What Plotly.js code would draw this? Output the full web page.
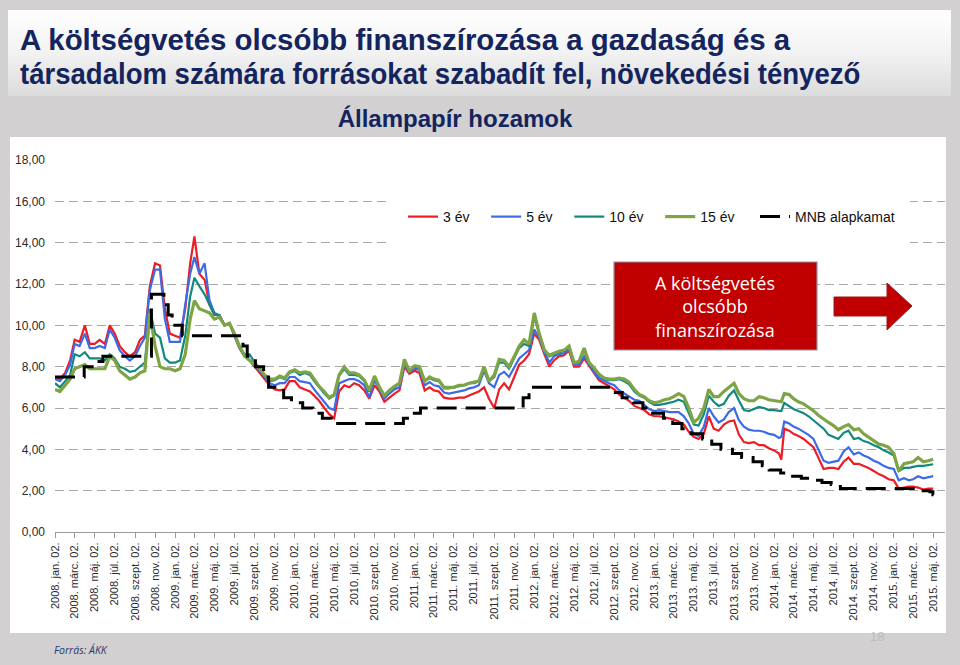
<!DOCTYPE html>
<html>
<head>
<meta charset="utf-8">
<script src="https://cdn.plot.ly/plotly-3.0.1.min.js"></script>
<style>
  html, body { margin:0; padding:0; background:#D2D0D0; width:960px; height:665px; overflow:hidden; }
  #hdr { position:absolute; left:8px; top:10px; width:943px; height:86px;
         background:linear-gradient(to bottom, #FFFFFF 0%, #F4F4F4 45%, #DCDCDC 100%); }
  #chart { position:absolute; left:0; top:0; width:960px; height:665px; }
  .hl { position:absolute; left:20px; white-space:nowrap; pointer-events:none; height:34px;
        font-family:'Liberation Sans', Arial, sans-serif; font-weight:bold; font-size:30px;
        line-height:34px; color:#13245E; transform-origin:0 50%; }
  #hl1 { top:23px; transform:scaleX(0.98); }
  #hl2 { top:57px; transform:scaleX(0.918); }
</style>
</head>
<body>
<div id="hdr"></div>
<div id="chart"></div>
<div id="hl1" class="hl"></div>
<div id="hl2" class="hl"></div>
<script>
// ---------- data ----------
const dates = [
'2008-01-02','2008-01-17','2008-02-02','2008-02-17','2008-03-02','2008-03-17','2008-04-02','2008-04-17','2008-05-02','2008-05-17','2008-06-02','2008-06-17',
'2008-07-02','2008-07-17','2008-08-02','2008-08-17','2008-09-02','2008-09-17','2008-10-02','2008-10-17','2008-11-02','2008-11-17','2008-12-02','2008-12-17',
'2009-01-02','2009-01-17','2009-02-02','2009-02-17','2009-03-02','2009-03-17','2009-04-02','2009-04-17','2009-05-02','2009-05-17','2009-06-02','2009-06-17',
'2009-07-02','2009-07-17','2009-08-02','2009-08-17','2009-09-02','2009-09-17','2009-10-02','2009-10-17','2009-11-02','2009-11-17','2009-12-02','2009-12-17',
'2010-01-02','2010-01-17','2010-02-02','2010-02-17','2010-03-02','2010-03-17','2010-04-02','2010-04-17','2010-05-02','2010-05-17','2010-06-02','2010-06-17',
'2010-07-02','2010-07-17','2010-08-02','2010-08-17','2010-09-02','2010-09-17','2010-10-02','2010-10-17','2010-11-02','2010-11-17','2010-12-02','2010-12-17',
'2011-01-02','2011-01-17','2011-02-02','2011-02-17','2011-03-02','2011-03-17','2011-04-02','2011-04-17','2011-05-02','2011-05-17','2011-06-02','2011-06-17',
'2011-07-02','2011-07-17','2011-08-02','2011-08-17','2011-09-02','2011-09-17','2011-10-02','2011-10-17','2011-11-02','2011-11-17','2011-12-02','2011-12-17',
'2012-01-02','2012-01-17','2012-02-02','2012-02-17','2012-03-02','2012-03-17','2012-04-02','2012-04-17','2012-05-02','2012-05-17','2012-06-02','2012-06-17',
'2012-07-02','2012-07-17','2012-08-02','2012-08-17','2012-09-02','2012-09-17','2012-10-02','2012-10-17','2012-11-02','2012-11-17','2012-12-02','2012-12-17',
'2013-01-02','2013-01-17','2013-02-02','2013-02-17','2013-03-02','2013-03-17','2013-04-02','2013-04-17','2013-05-02','2013-05-17','2013-06-02','2013-06-17',
'2013-07-02','2013-07-17','2013-08-02','2013-08-17','2013-09-02','2013-09-17','2013-10-02','2013-10-17','2013-11-02','2013-11-17','2013-12-02','2013-12-17',
'2014-01-02','2014-01-17','2014-01-24','2014-02-02','2014-02-17','2014-03-02','2014-03-17','2014-04-02','2014-04-17','2014-05-02','2014-05-17','2014-06-02','2014-06-17',
'2014-07-02','2014-07-17','2014-08-02','2014-08-17','2014-09-02','2014-09-17','2014-10-02','2014-10-17','2014-11-02','2014-11-17','2014-12-02','2014-12-17',
'2015-01-02','2015-01-17','2015-02-02','2015-02-17','2015-03-02','2015-03-17','2015-04-02','2015-04-17','2015-05-02'
];

const y3 = [
7.5,7.4,7.7,8.3,9.3,9.2,10.0,9.1,9.1,9.3,9.1,10.0,
9.6,9.0,8.7,8.5,8.7,9.3,9.5,11.9,13.0,12.9,10.8,9.6,
9.5,9.4,10.8,13.0,14.3,12.5,12.2,11.0,10.5,10.5,10.0,10.1,
9.5,8.9,8.5,8.3,8.0,7.7,7.4,7.1,6.9,6.85,6.9,7.3,
7.3,7.0,6.9,6.8,6.6,6.35,6.0,5.7,5.5,6.8,7.1,7.0,
7.2,7.1,6.85,6.45,7.1,6.8,6.3,6.5,6.7,6.85,8.0,7.65,
7.8,7.7,6.85,7.0,6.85,6.8,6.5,6.45,6.45,6.5,6.5,6.6,
6.7,6.8,7.0,6.45,6.0,6.9,7.2,6.9,7.5,8.1,8.3,8.6,
9.6,9.3,8.6,8.0,8.3,8.5,8.55,8.8,8.0,8.0,8.4,8.05,
7.65,7.35,7.2,7.05,6.9,6.65,6.5,6.35,6.1,6.0,5.9,5.7,
5.6,5.6,5.55,5.5,5.45,5.35,5.2,4.85,4.6,4.5,4.75,5.6,
5.0,4.9,5.2,5.35,5.4,4.7,4.35,4.3,4.35,4.2,4.2,4.05,
3.95,3.8,3.5,5.0,4.9,4.75,4.65,4.5,4.3,4.1,3.6,3.05,3.1,
3.1,3.05,3.4,3.6,3.3,3.3,3.2,3.1,2.95,2.8,2.7,2.55,
2.5,2.1,2.15,2.2,2.2,2.15,2.05,2.1,2.1
];

const y5 = [
7.4,7.3,7.6,8.1,9.1,9.0,9.6,8.9,8.9,9.0,8.9,9.8,
9.4,8.8,8.5,8.3,8.5,9.0,9.4,11.7,12.7,12.7,10.3,9.2,
9.2,9.2,11.0,12.5,13.3,12.5,13.0,11.2,10.6,10.5,10.0,10.1,
9.5,8.9,8.5,8.3,8.1,7.8,7.5,7.2,7.1,7.2,7.2,7.5,
7.5,7.3,7.25,7.2,6.9,6.6,6.3,6.0,5.9,7.2,7.3,7.4,
7.4,7.3,7.1,6.5,7.35,6.9,6.45,6.7,6.9,7.0,8.1,7.75,
7.9,7.85,7.1,7.25,7.1,7.05,6.75,6.7,6.75,6.8,6.85,6.95,
7.0,7.1,7.8,7.2,7.0,7.6,7.75,7.5,8.0,8.4,8.6,8.8,
9.8,9.4,8.7,8.2,8.5,8.6,8.65,8.85,8.1,8.1,8.5,8.1,
7.75,7.45,7.3,7.2,7.1,6.85,6.7,6.55,6.4,6.35,6.15,5.95,
5.85,5.9,5.85,5.8,5.8,5.8,5.6,5.25,4.75,4.65,5.1,6.0,
5.6,5.3,5.45,5.8,6.0,5.4,5.1,4.95,4.9,4.9,4.85,4.75,
4.7,4.55,4.6,5.35,5.25,5.1,5.0,4.85,4.7,4.5,4.0,3.45,3.35,
3.4,3.45,3.9,4.1,3.75,3.85,3.7,3.6,3.45,3.35,3.2,3.1,
3.05,2.5,2.6,2.5,2.55,2.7,2.6,2.65,2.7
];

const y10 = [
7.2,7.0,7.3,7.6,8.6,8.5,8.7,8.4,8.4,8.4,8.3,8.6,
8.4,8.0,7.9,7.75,7.8,8.0,8.2,10.8,9.6,9.4,8.4,8.2,
8.2,8.3,9.5,11.4,12.3,11.9,11.5,11.0,10.5,10.5,10.0,10.1,
9.5,9.0,8.6,8.6,8.2,7.9,7.6,7.3,7.35,7.5,7.4,7.7,
7.8,7.6,7.7,7.6,7.3,7.0,6.7,6.45,6.6,7.55,7.9,7.6,
7.6,7.55,7.3,6.8,7.5,7.0,6.6,6.85,7.0,7.2,8.3,7.8,
8.0,7.95,7.3,7.45,7.35,7.3,6.95,6.95,7.0,7.05,7.1,7.2,
7.2,7.3,7.9,7.3,7.5,8.2,8.2,7.9,8.4,8.9,9.1,9.0,
10.4,9.6,8.8,8.5,8.6,8.7,8.75,8.95,8.2,8.2,8.8,8.2,
7.9,7.6,7.4,7.35,7.35,7.4,7.3,7.15,6.8,6.6,6.5,6.3,
6.15,6.15,6.2,6.25,6.3,6.4,6.3,5.75,5.2,5.15,5.7,6.6,
6.3,6.1,6.2,6.6,6.85,6.35,5.9,5.85,5.95,6.05,6.0,5.9,
5.9,5.85,5.85,6.25,6.1,5.95,5.85,5.75,5.6,5.4,5.2,5.0,4.7,
4.6,4.5,4.8,4.9,4.5,4.55,4.4,4.33,4.2,4.1,3.95,3.85,
3.7,2.95,3.1,3.1,3.15,3.2,3.2,3.25,3.28
];

const y15 = [
6.9,6.8,7.1,7.4,7.9,8.0,8.1,7.9,7.9,7.9,7.9,8.5,
8.3,7.8,7.6,7.4,7.5,7.7,7.8,10.6,9.0,8.0,7.9,7.9,
7.8,7.9,8.6,10.3,11.2,10.8,10.7,10.6,10.3,10.4,10.0,10.1,
9.6,9.0,8.5,8.3,8.1,7.9,7.6,7.4,7.4,7.55,7.45,7.75,
7.85,7.7,7.75,7.7,7.4,7.05,6.8,6.5,6.65,7.6,8.0,7.7,
7.7,7.6,7.35,6.85,7.55,7.0,6.6,6.85,7.05,7.2,8.35,7.8,
8.05,8.0,7.3,7.5,7.4,7.35,7.0,7.0,7.0,7.1,7.1,7.2,
7.25,7.3,8.0,7.3,7.6,8.35,8.3,8.0,8.5,9.0,9.3,9.1,
10.6,9.6,8.8,8.55,8.65,8.75,8.8,9.0,8.2,8.25,8.9,8.2,
7.95,7.65,7.45,7.4,7.4,7.45,7.4,7.25,6.9,6.65,6.55,6.35,
6.25,6.3,6.4,6.45,6.55,6.7,6.55,6.0,5.3,5.5,6.0,6.9,
6.55,6.55,6.8,7.0,7.2,6.7,6.45,6.35,6.35,6.55,6.5,6.4,
6.35,6.3,6.3,6.7,6.65,6.45,6.3,6.2,6.05,5.87,5.65,5.45,5.3,
5.15,4.95,5.1,5.2,4.95,5.0,4.75,4.6,4.4,4.25,4.2,4.1,
3.8,2.95,3.3,3.35,3.4,3.6,3.4,3.45,3.52
];

const mnbDates = [
'2008-01-02','2008-03-31','2008-04-29','2008-05-27','2008-10-22','2008-11-29','2008-12-12','2008-12-24','2009-01-24',
'2009-07-28','2009-08-10','2009-09-04','2009-09-29','2009-10-14','2009-11-29','2009-12-23','2010-01-26','2010-02-26',
'2010-03-27','2010-04-23','2010-11-29','2010-12-23','2011-01-20','2011-11-29','2011-12-17','2012-08-29','2012-09-26',
'2012-10-31','2012-11-28','2012-12-19','2013-01-30','2013-02-27','2013-03-27','2013-04-24','2013-05-29','2013-06-26',
'2013-07-24','2013-08-28','2013-09-25','2013-10-30','2013-11-27','2013-12-18','2014-01-22','2014-02-19','2014-03-26',
'2014-04-23','2014-05-28','2014-06-25','2014-07-23','2015-03-25','2015-04-22','2015-05-01','2015-05-03'
];
const mnbRate = [
7.5,8.0,8.25,8.5,11.5,11.0,10.5,10.0,9.5,
9.0,8.5,8.0,7.5,7.0,6.5,6.25,6.0,5.75,
5.5,5.25,5.5,5.75,6.0,6.5,7.0,6.75,6.5,
6.25,6.0,5.75,5.5,5.25,5.0,4.75,4.5,4.25,
4.0,3.8,3.6,3.4,3.2,3.0,2.85,2.7,2.6,
2.5,2.4,2.3,2.1,2.0,1.95,1.8,1.8
];

const seriesNames = ['3 év','5 év','10 év','15 év','MNB alapkamat'];

const tickDates = [
'2008-01-02','2008-03-02','2008-05-02','2008-07-02','2008-09-02','2008-11-02',
'2009-01-02','2009-03-02','2009-05-02','2009-07-02','2009-09-02','2009-11-02',
'2010-01-02','2010-03-02','2010-05-02','2010-07-02','2010-09-02','2010-11-02',
'2011-01-02','2011-03-02','2011-05-02','2011-07-02','2011-09-02','2011-11-02',
'2012-01-02','2012-03-02','2012-05-02','2012-07-02','2012-09-02','2012-11-02',
'2013-01-02','2013-03-02','2013-05-02','2013-07-02','2013-09-02','2013-11-02',
'2014-01-02','2014-03-02','2014-05-02','2014-07-02','2014-09-02','2014-11-02',
'2015-01-02','2015-03-02','2015-05-02'
];
const tickLabels = [
'2008. jan. 02.','2008. márc. 02.','2008. máj. 02.','2008. júl. 02.','2008. szept. 02.','2008. nov. 02.',
'2009. jan. 02.','2009. márc. 02.','2009. máj. 02.','2009. júl. 02.','2009. szept. 02.','2009. nov. 02.',
'2010. jan. 02.','2010. márc. 02.','2010. máj. 02.','2010. júl. 02.','2010. szept. 02.','2010. nov. 02.',
'2011. jan. 02.','2011. márc. 02.','2011. máj. 02.','2011. júl. 02.','2011. szept. 02.','2011. nov. 02.',
'2012. jan. 02.','2012. márc. 02.','2012. máj. 02.','2012. júl. 02.','2012. szept. 02.','2012. nov. 02.',
'2013. jan. 02.','2013. márc. 02.','2013. máj. 02.','2013. júl. 02.','2013. szept. 02.','2013. nov. 02.',
'2014. jan. 02.','2014. márc. 02.','2014. máj. 02.','2014. júl. 02.','2014. szept. 02.','2014. nov. 02.',
'2015. jan. 02.','2015. márc. 02.','2015. máj. 02.'
];

const headline1 = 'A költségvetés olcsóbb finanszírozása a gazdaság és a';
const headline2 = 'társadalom számára forrásokat szabadít fel, növekedési tényező';
const chartTitle = 'Állampapír hozamok';
const boxText = 'A költségvetés<br>olcsóbb<br>finanszírozása';
const sourceText = 'Forrás: ÁKK';
const pageNo = '18';

// slide headline as real text, horizontally condensed
document.getElementById('hl1').textContent = headline1;
document.getElementById('hl2').textContent = headline2;

// ---------- geometry helpers (pixel -> paper) ----------
const L = 55, R = 945, T = 160, B = 532;
const px = x => (x - L) / (R - L);
const py = y => (B - y) / (B - T);

const navy = '#13245E';
const lineFont = 'Liberation Sans, Arial, sans-serif';
const NB = '\u00A0';
// trailing non-breaking spaces only widen the legend spacing (invisible)
const legendPad = [NB.repeat(3), NB.repeat(3), NB.repeat(3), NB.repeat(4), ''];

const colors = ['#EE1C25', '#3D6BE6', '#11897F', '#7EA446', '#000000'];
const traces = [
  {x: dates, y: y3,  name: seriesNames[0] + legendPad[0], line: {color: colors[0], width: 2.2}},
  {x: dates, y: y5,  name: seriesNames[1] + legendPad[1], line: {color: colors[1], width: 2.2}},
  {x: dates, y: y10, name: seriesNames[2] + legendPad[2], line: {color: colors[2], width: 2.2}},
  {x: dates, y: y15, name: seriesNames[3] + legendPad[3], line: {color: colors[3], width: 3.2}},
  {x: mnbDates, y: mnbRate, name: seriesNames[4], line: {color: colors[4], width: 3, dash: '20px,9px', shape: 'hv'}}
].map(t => Object.assign({type: 'scatter', mode: 'lines', hoverinfo: 'skip'}, t));

const layout = {
  width: 960, height: 665,
  margin: {l: L, r: 960 - R, t: T, b: 665 - B},
  paper_bgcolor: 'rgba(0,0,0,0)',
  plot_bgcolor: 'rgba(0,0,0,0)',
  separators: ', ',
  font: {family: lineFont, color: '#333'},
  title: {text: '<b>' + chartTitle + '</b>', x: 455/960, xref: 'container', xanchor: 'center',
          y: 1 - 119/665, yref: 'container', yanchor: 'middle',
          font: {family: lineFont, size: 24, color: navy}},
  xaxis: {
    type: 'date', range: ['2008-01-02', '2015-06-07'],
    tickmode: 'array', tickvals: tickDates, ticktext: tickLabels,
    tickangle: -90, tickfont: {size: 11, color: '#2A2A2A'},
    showgrid: false, zeroline: false,
    showline: true, linecolor: '#9A9A9A', linewidth: 1,
    ticks: 'outside', ticklen: 5, tickcolor: '#9A9A9A'
  },
  yaxis: {
    range: [0, 18], dtick: 2, tick0: 0, tickformat: '.2f',
    tickfont: {size: 12, color: '#2A2A2A'},
    showgrid: true, gridcolor: '#A8A8A8', gridwidth: 1, griddash: '9px,5px',
    zeroline: false, showline: false, ticks: '', ticklabelstandoff: 9
  },
  showlegend: true,
  legend: {
    orientation: 'h', x: px(403), xanchor: 'left', y: py(201), yanchor: 'top',
    bgcolor: 'rgba(255,255,255,0)', borderwidth: 0,
    font: {family: lineFont, size: 14, color: '#111'},
    traceorder: 'normal'
  },
  shapes: [
    {type: 'rect', xref: 'paper', yref: 'paper', layer: 'below',
     x0: px(10), x1: px(946), y0: py(633), y1: py(137), fillcolor: '#FFFFFF', line: {width: 0}},
    {type: 'rect', xref: 'paper', yref: 'paper', layer: 'above',
     x0: px(387), x1: px(910), y0: py(252), y1: py(190), fillcolor: '#FFFFFF', line: {width: 0}},
    {type: 'rect', xref: 'paper', yref: 'paper', layer: 'above',
     x0: px(614), x1: px(817), y0: py(350), y1: py(262), fillcolor: '#C00000', line: {color: '#8E93A6', width: 1.2}},
    {type: 'path', xref: 'paper', yref: 'paper', layer: 'above',
     path: 'M ' + px(834) + ',' + py(297) + ' L ' + px(887) + ',' + py(297) + ' L ' + px(887) + ',' + py(283) +
           ' L ' + px(912) + ',' + py(306) + ' L ' + px(887) + ',' + py(330) + ' L ' + px(887) + ',' + py(316) +
           ' L ' + px(834) + ',' + py(316) + ' Z',
     fillcolor: '#C00000', line: {color: '#9A1B1B', width: 1}}
  ],
  annotations: [
    {text: boxText, xref: 'paper', yref: 'paper', x: px(715), y: py(306), xanchor: 'center', yanchor: 'middle',
     showarrow: false, align: 'center', font: {family: 'Open Sans, sans-serif', size: 18, color: '#FFFFFF'}},
    {text: '<i>' + sourceText + '</i>', xref: 'paper', yref: 'paper', x: px(52), y: py(650), xanchor: 'left', yanchor: 'middle',
     showarrow: false, font: {family: 'Open Sans, sans-serif', size: 10.5, color: '#1F3A6E'}},
    {text: pageNo, xref: 'paper', yref: 'paper', x: px(877), y: py(636), xanchor: 'center', yanchor: 'middle',
     showarrow: false, font: {family: lineFont, size: 13, color: '#BDBDBD'}}
  ]
};

Plotly.newPlot('chart', traces, layout, {staticPlot: true, displayModeBar: false});
</script>
</body>
</html>
